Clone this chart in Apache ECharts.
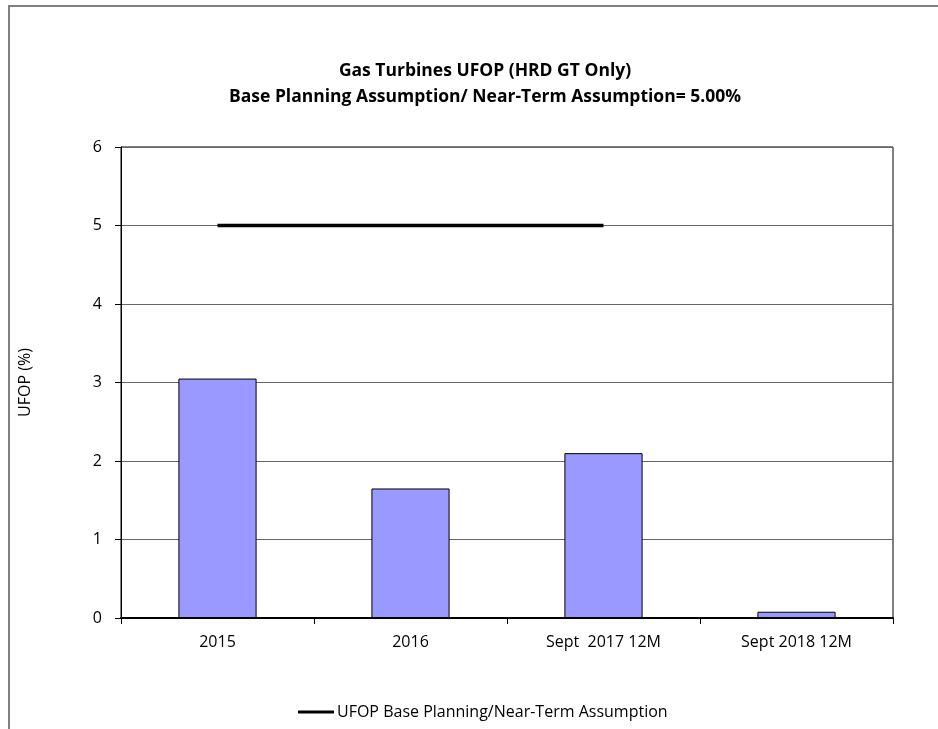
<!DOCTYPE html>
<html><head><meta charset="utf-8">
<script src="https://cdn.jsdelivr.net/npm/echarts@6/dist/echarts.min.js"></script>
<style>html,body{margin:0;padding:0;background:#fff}#c{width:938px;height:729px}</style>
</head><body><div id="c"></div>
<script>
const categories = ['2015', '2016', 'Sept  2017 12M', 'Sept 2018 12M'];
const ufopValues = [3.05, 1.65, 2.10, 0.08];
const assumptionValues = [5, 5, 5, null];
const yTicks = [0, 1, 2, 3, 4, 5, 6];
const titleLines = ['Gas Turbines UFOP (HRD GT Only)', 'Base Planning Assumption/ Near-Term Assumption= 5.00%'];
const legendName = 'UFOP Base Planning/Near-Term Assumption';

const font = '"Open Sans", "Liberation Sans", sans-serif';
const chart = echarts.init(document.getElementById('c'), null, {renderer: 'canvas'});
chart.setOption({
  animation: false,
  backgroundColor: '#fff',
  graphic: [
    {type: 'polyline', shape: {points: [[9, 740], [9, 6], [950, 6]]}, style: {stroke: '#808080', lineWidth: 2, fill: null}, silent: true}
  ],
  title: {
    text: titleLines.join('\n'), left: 480, top: 53, textAlign: 'center',
    textStyle: {fontFamily: font, fontSize: 17.5, fontWeight: 'bold', color: '#000', lineHeight: 26}
  },
  legend: {
    bottom: 4, left: 293, itemWidth: 36, itemHeight: 3, itemGap: 4,
    data: [{name: legendName, icon: 'rect'}],
    textStyle: {fontFamily: font, fontSize: 16, color: '#000', padding: [0, 0, 0, -2]}
  },
  grid: {left: 121, top: 147, right: 45, bottom: 111, show: true, borderColor: '#000', borderWidth: 1, backgroundColor: 'transparent'},
  xAxis: {
    type: 'category', data: categories, boundaryGap: true,
    axisLine: {lineStyle: {color: '#000', width: 2}},
    axisTick: {show: true, length: 6, lineStyle: {color: '#000'}},
    axisLabel: {fontFamily: font, fontSize: 16, color: '#000', margin: 16}
  },
  yAxis: {
    type: 'value', min: yTicks[0], max: yTicks[yTicks.length - 1], interval: 1,
    name: 'UFOP (%)', nameLocation: 'middle', nameGap: 88, nameRotate: 90,
    nameTextStyle: {fontFamily: font, fontSize: 16, color: '#000'},
    axisLine: {show: true, lineStyle: {color: '#000', width: 1}},
    axisTick: {show: true, inside: false, length: 6, lineStyle: {color: '#000'}},
    axisLabel: {fontFamily: font, fontSize: 16, color: '#000', margin: 19},
    splitLine: {show: true, lineStyle: {color: '#666', width: 1}}
  },
  series: [
    {
      name: 'UFOP', type: 'bar', data: ufopValues, barWidth: '40.5%',
      itemStyle: {color: '#9999FF', borderColor: '#000', borderWidth: 1}
    },
    {
      name: legendName, type: 'line', data: assumptionValues, symbol: 'none',
      lineStyle: {color: '#000', width: 3.5}, itemStyle: {color: '#000'}, connectNulls: false
    }
  ]
});
</script></body></html>
